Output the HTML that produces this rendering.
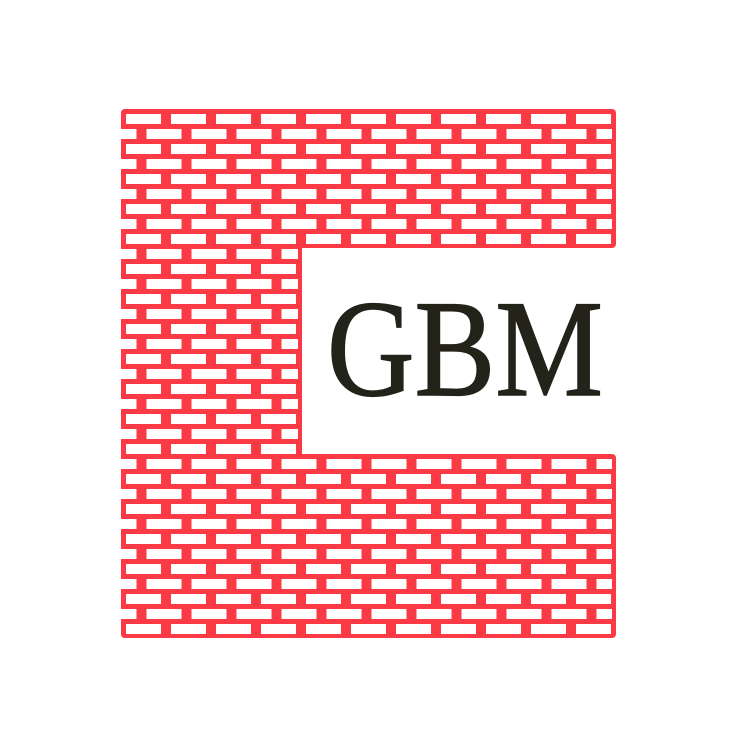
<!DOCTYPE html>
<html><head><meta charset="utf-8"><style>html,body{margin:0;padding:0;background:#fff}svg{display:block}</style></head>
<body>
<svg id="logo" width="750" height="750" viewBox="0 0 750 750" xmlns="http://www.w3.org/2000/svg">
<defs>
<clipPath id="holeClip">
<rect x="121" y="111" width="491" height="134"/>
<rect x="121" y="111" width="177" height="524"/>
<rect x="121" y="457" width="491" height="178"/>
</clipPath>
</defs>
<g fill="#fc3a45">
<rect x="121" y="109" width="495" height="139" rx="4"/>
<rect x="121" y="109" width="181" height="529" rx="4"/>
<rect x="121" y="454" width="495" height="184" rx="4"/>
</g>
<g id="holes" clip-path="url(#holeClip)" fill="#fff"></g>
<text x="327" y="395" font-family="'Liberation Serif', serif" font-size="138" fill="#23231a" stroke="#23231a" stroke-width="1.5" textLength="276" lengthAdjust="spacingAndGlyphs">GBM</text>
</svg>
<script>
const g=document.getElementById('holes');
for(let r=0;r<35;r++){
  const y=114+r*15;
  const off=(r%2===0)?126:101.5;
  for(let x=off-45;x<620;x+=45){
    const el=document.createElementNS('http://www.w3.org/2000/svg','rect');
    el.setAttribute('x',x);el.setAttribute('y',y);
    el.setAttribute('width',35);el.setAttribute('height',10);
    
    
    g.appendChild(el);
  }
}
</script>
</body></html>
